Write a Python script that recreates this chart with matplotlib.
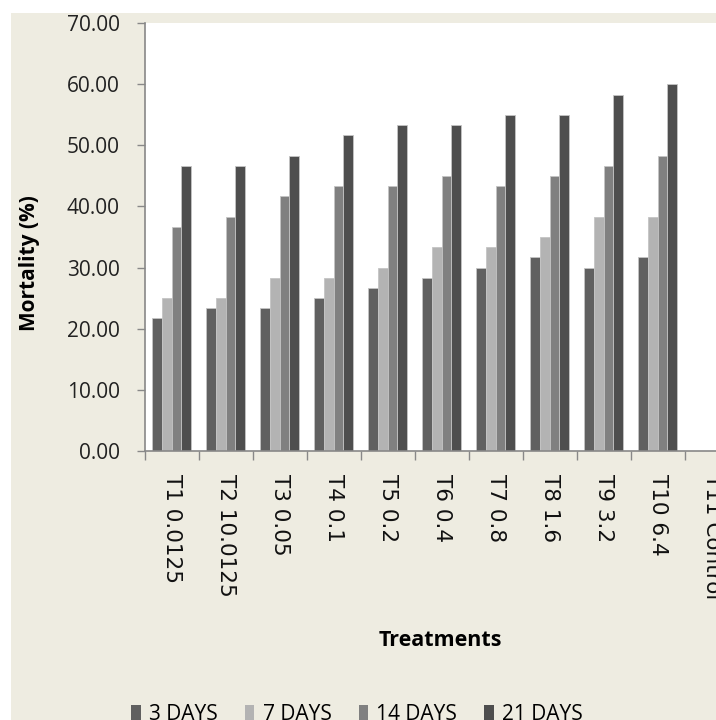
import matplotlib
matplotlib.use("Agg")
import matplotlib.pyplot as plt
import matplotlib.patches as patches
import numpy as np

treatments = ["T1 0.0125", "T2 10.0125", "T3 0.05", "T4 0.1", "T5 0.2", "T6 0.4",
              "T7 0.8", "T8 1.6", "T9 3.2", "T10 6.4", "T11 Control"]
days_3 = [21.67, 23.33, 23.33, 25.00, 26.67, 28.33, 30.00, 31.67, 30.00, 31.67, 0.0]
days_7 = [25.00, 25.00, 28.33, 28.33, 30.00, 33.33, 33.33, 35.00, 38.33, 38.33, 0.0]
days_14 = [36.67, 38.33, 41.67, 43.33, 43.33, 45.00, 43.33, 45.00, 46.67, 48.33, 0.0]
days_21 = [46.67, 46.67, 48.33, 51.67, 53.33, 53.33, 55.00, 55.00, 58.33, 60.00, 0.0]
series_names = ["3 DAYS", "7 DAYS", "14 DAYS", "21 DAYS"]
yticks = [0, 10, 20, 30, 40, 50, 60, 70]

colors = ["#606060", "#b3b3b3", "#808080", "#4e4e4e"]
bg = "#eeece1"
axis_col = "#888888"
ui_font = ["Open Sans", "DejaVu Sans"]

fig = plt.figure(figsize=(7.16, 7.2), dpi=100, facecolor="white")
# beige chart area, leaving a thin white margin on the top and left
fig.patches.append(patches.Rectangle((11 / 716, 0), 1, 1 - 12.7 / 720,
                                     transform=fig.transFigure, facecolor=bg,
                                     edgecolor="none", zorder=-10))

# plot area runs past the right edge of the figure
ax = fig.add_axes([144.7 / 716, 1 - 450.7 / 720, 594 / 716, 427.4 / 720])
ax.set_facecolor("white")

x = np.arange(len(treatments))
w = 0.178
for i, (vals, name) in enumerate(zip([days_3, days_7, days_14, days_21], series_names)):
    ax.bar(x + (i - 1.5) * w, vals, width=w, color=colors[i], edgecolor="#c4c4c4",
           linewidth=0.6, label=name, zorder=2)

ax.set_xlim(-0.5, len(treatments) - 0.5)
ax.set_ylim(0, 70)
ax.set_yticks(yticks)
ax.set_yticklabels(["%.2f" % v for v in yticks], fontfamily=ui_font, fontsize=15,
                   color="#222222")
ax.tick_params(axis="y", direction="out", length=6, width=1, color=axis_col, pad=12)

ax.set_xticks(x)
ax.set_xticklabels(treatments, rotation=-90, fontfamily="DejaVu Sans", fontsize=15.5,
                   color="#111111")
ax.set_xticks(np.arange(-0.5, len(treatments), 1), minor=True)
ax.tick_params(axis="x", which="major", length=0, pad=17)
ax.tick_params(axis="x", which="minor", direction="out", length=6.5, width=1, color=axis_col)

for s in ["top", "right"]:
    ax.spines[s].set_visible(False)
for s in ["left", "bottom"]:
    ax.spines[s].set_color(axis_col)
    ax.spines[s].set_linewidth(1.2)

fig.text(30 / 716, 1 - 263 / 720, "Mortality (%)", rotation=90, ha="center", va="center",
         fontfamily=ui_font, fontweight="bold", fontsize=15)
fig.text(440 / 716, 1 - 640 / 720, "Treatments", ha="center", va="center",
         fontfamily=ui_font, fontweight="bold", fontsize=15.5)

handles = [patches.Patch(facecolor=c, edgecolor="none") for c in colors]
fig.legend(handles, series_names, loc="center", ncol=4, frameon=False,
           bbox_to_anchor=(357 / 716, 1 - 714 / 720), prop={"family": ui_font, "size": 15},
           handlelength=0.45, handleheight=0.7, handletextpad=0.4, columnspacing=1.3)

fig.savefig("out.png", dpi=100, facecolor=fig.get_facecolor())
